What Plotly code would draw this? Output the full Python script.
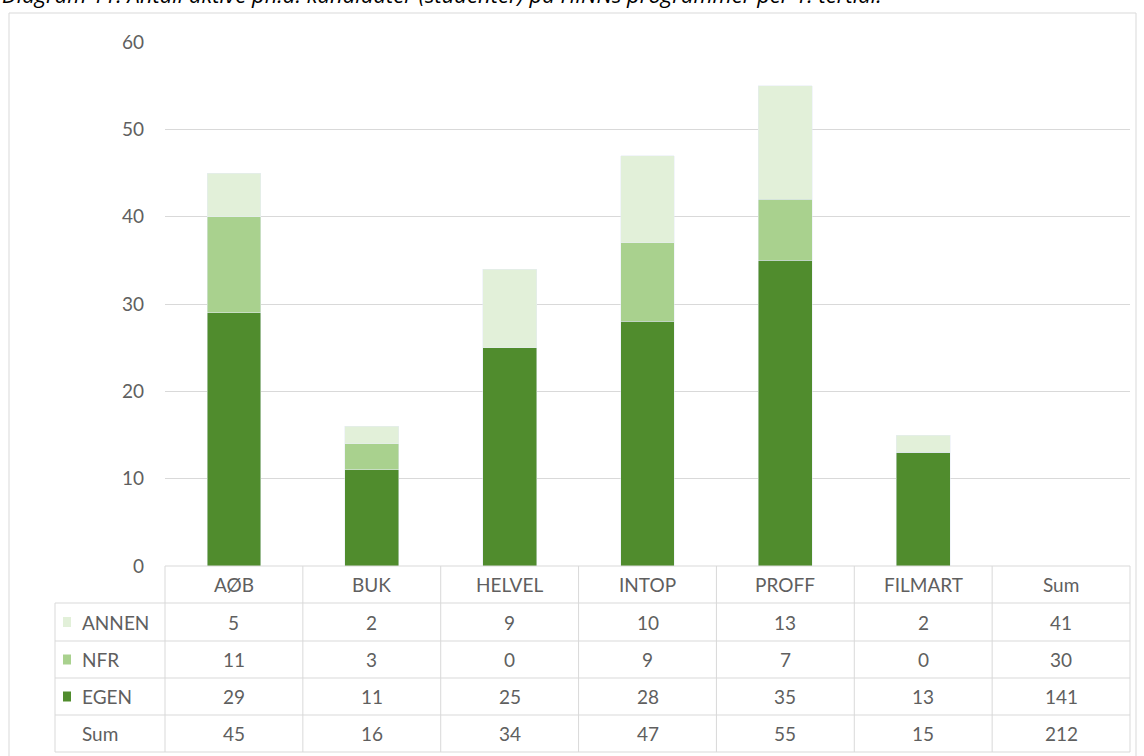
import plotly.graph_objects as go

programs = ["AØB", "BUK", "HELVEL", "INTOP", "PROFF", "FILMART"]
columns = programs + ["Sum"]
egen = [29, 11, 25, 28, 35, 13]
nfr = [11, 3, 0, 9, 7, 0]
annen = [5, 2, 9, 10, 13, 2]
# totals as printed in the table (row sums / column sums)
annen_row = [5, 2, 9, 10, 13, 2, 41]
nfr_row = [11, 3, 0, 9, 7, 0, 30]
egen_row = [29, 11, 25, 28, 35, 13, 141]
sum_row = [45, 16, 34, 47, 55, 15, 212]

c_egen = "#508c2d"
c_nfr = "#a9d18e"
c_annen = "#e2f0d9"
grey = "#5f5f5f"
line = "#d9d9d9"
font = "Lato"

W, H = 1144, 756
L, R, T, B = 165, 14, 42, 190
pw, ph = W - L - R, H - T - B
ybot = T + ph


def px_x(x):
    return (x - L) / pw


def px_y(y):
    return (ybot - y) / ph


def label(x, y, text, size=19, anchor="center", **kw):
    return dict(x=x, y=y, xref="paper", yref="paper", xanchor=anchor, yanchor="middle",
                text=text, showarrow=False, font=dict(size=size, color=grey, family=font), **kw)


xs = list(range(len(programs)))
fig = go.Figure()
fig.add_bar(x=xs, y=egen, name="EGEN", marker_color=c_egen, width=0.39)
fig.add_bar(x=xs, y=nfr, name="NFR", marker_color=c_nfr, width=0.39)
fig.add_bar(x=xs, y=annen, name="ANNEN", marker_color=c_annen, width=0.39)

shapes = []
annots = []

# outer chart frame
shapes.append(dict(type="rect", xref="paper", yref="paper",
                   x0=px_x(9), x1=px_x(1136), y0=px_y(762), y1=px_y(13),
                   line=dict(color=line, width=1)))

# table grid
rows_y = [566, 603, 641, 678, 715, 752]
ncol = len(columns)
for k in range(ncol + 1):
    shapes.append(dict(type="line", xref="paper", yref="paper",
                       x0=k / ncol, x1=k / ncol, y0=px_y(566), y1=px_y(752),
                       line=dict(color=line, width=1)))
shapes.append(dict(type="line", xref="paper", yref="paper",
                   x0=px_x(55), x1=px_x(55), y0=px_y(603), y1=px_y(752),
                   line=dict(color=line, width=1)))
for i, yy in enumerate(rows_y):
    shapes.append(dict(type="line", xref="paper", yref="paper",
                       x0=0 if i == 0 else px_x(55), x1=1, y0=px_y(yy), y1=px_y(yy),
                       line=dict(color=line, width=1)))

# header labels
hc = (rows_y[0] + rows_y[1]) / 2
for k, name in enumerate(columns):
    annots.append(label((k + 0.5) / ncol, px_y(hc), name))

table = [("ANNEN", annen_row, c_annen), ("NFR", nfr_row, c_nfr),
         ("EGEN", egen_row, c_egen), ("Sum", sum_row, None)]
for r, (name, vals, col) in enumerate(table):
    yc = (rows_y[r + 1] + rows_y[r + 2]) / 2
    if col:
        shapes.append(dict(type="rect", xref="paper", yref="paper",
                           x0=px_x(63), x1=px_x(71), y0=px_y(yc + 5), y1=px_y(yc - 5),
                           fillcolor=col, line=dict(width=0)))
    annots.append(label(px_x(80), px_y(yc), name, anchor="left"))
    for k, v in enumerate(vals):
        annots.append(label((k + 0.5) / ncol, px_y(yc), str(v)))

# title, partly cut off at the top like the source
annots.append(dict(x=px_x(0), y=px_y(11), xref="paper", yref="paper",
                   xanchor="left", yanchor="bottom", showarrow=False,
                   text="Diagram 11: Antall aktive ph.d. kandidater (studenter) på HiNNs programmer per 1. tertial.",
                   font=dict(size=22, color="#000000", family="Open Sans", style="italic")))

fig.update_layout(
    barmode="stack",
    width=W, height=H,
    margin=dict(l=L, r=R, t=T, b=B),
    paper_bgcolor="white", plot_bgcolor="white",
    showlegend=False,
    shapes=shapes, annotations=annots,
    font=dict(family=font, color=grey),
)
fig.update_xaxes(range=[-0.5, ncol - 0.5], showticklabels=False, showgrid=False,
                 zeroline=False, showline=False)
fig.update_yaxes(range=[0, 60], dtick=10, showgrid=True, gridcolor=line, gridwidth=1,
                 zeroline=False, showline=False, ticklabelstandoff=20,
                 tickfont=dict(size=19, color=grey, family=font))

fig.write_html("out.html", config={"displayModeBar": False},
               post_script="document.body.style.margin='0';")
